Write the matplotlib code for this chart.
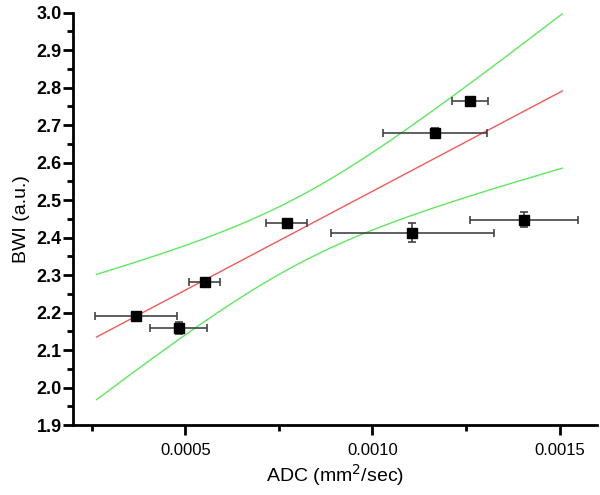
import numpy as np
import matplotlib
matplotlib.use("Agg")
import matplotlib.pyplot as plt
from matplotlib.ticker import MultipleLocator

plt.rcParams['font.family'] = ['Liberation Sans', 'DejaVu Sans']

# data
adc = [0.000369, 0.000482, 0.000552, 0.000771, 0.001107, 0.001167, 0.001261, 0.001405]
bwi = [2.1915, 2.158, 2.2805, 2.438, 2.413, 2.679, 2.764, 2.447]
adc_err = [0.000110, 0.000077, 0.000042, 0.000055, 0.000217, 0.000138, 0.000048, 0.000144]
bwi_err = [0.006, 0.016, 0.006, 0.006, 0.025, 0.012, 0.006, 0.020]

# linear fit and 95% confidence band
fit_intercept = 1.996
fit_slope = 527.3
band_x0 = 0.000801
band_a = 0.00795
band_b = 0.00069e8
fit_range = (0.000263, 0.001507)

fig = plt.figure(figsize=(6, 4.95), dpi=100)
ax = fig.add_axes([0.1217, 0.1414, 0.8733, 0.8333])

xf = np.linspace(fit_range[0], fit_range[1], 200)
yf = fit_intercept + fit_slope * xf
half = np.sqrt(band_a + band_b * (xf - band_x0) ** 2)
ax.plot(xf, yf, color='#f25a5a', lw=1.0)
ax.plot(xf, yf + half, color='#5fe85f', lw=1.0)
ax.plot(xf, yf - half, color='#5fe85f', lw=1.0)

ax.errorbar(adc, bwi, xerr=adc_err, yerr=bwi_err, fmt='s', color='black',
            ecolor='#444444', elinewidth=1.2, capsize=3, capthick=1.2,
            markersize=7.5, zorder=3)

ax.set_xlim(0.0002, 0.0016)
ax.set_ylim(1.9, 3.0)
ax.xaxis.set_minor_locator(MultipleLocator(0.00025))
ax.yaxis.set_minor_locator(MultipleLocator(0.05))
ax.set_xticks([0.0005, 0.0010, 0.0015])
ax.set_xticklabels(['0.0005', '0.0010', '0.0015'])
ax.set_yticks(np.round(np.arange(1.9, 3.01, 0.1), 1))
ax.set_yticklabels(['%.1f' % v for v in np.arange(1.9, 3.01, 0.1)],
                   fontweight='bold')

for s in ['top', 'right']:
    ax.spines[s].set_visible(False)
for s in ['left', 'bottom']:
    ax.spines[s].set_linewidth(2)

ax.tick_params(axis='x', which='major', length=7, width=2, labelsize=12, pad=6)
ax.tick_params(axis='x', which='minor', length=4, width=2)
ax.tick_params(axis='y', which='major', length=7, width=2, labelsize=13, pad=1)
ax.tick_params(axis='y', which='minor', length=4, width=2)

ax.set_xlabel('ADC (mm$^2$/sec)', fontsize=14, labelpad=3)
ax.set_ylabel('BWI (a.u.)', fontsize=14, labelpad=5)

fig.savefig('out.png', dpi=100)
